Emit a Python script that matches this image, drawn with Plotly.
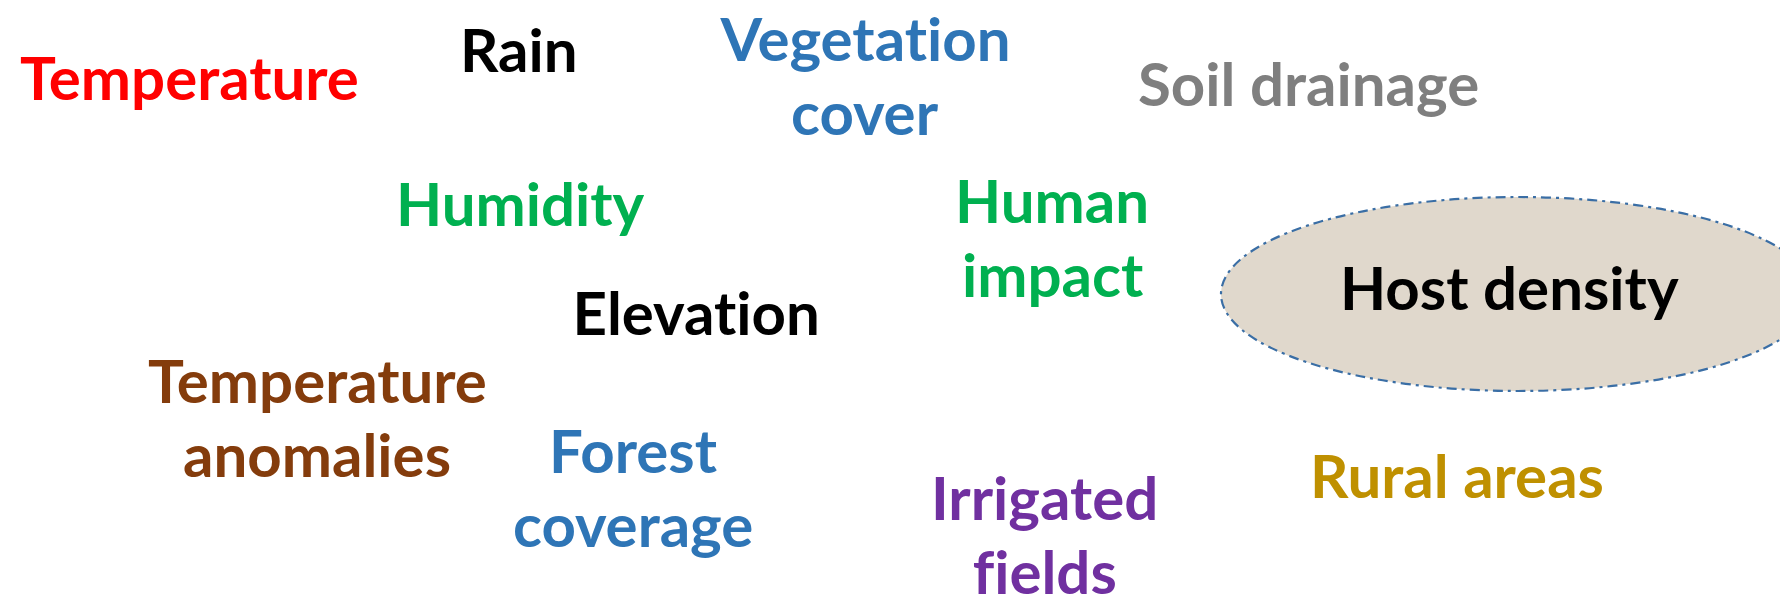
import plotly.graph_objects as go

W, H = 1788, 608

# Word-cloud items (each item may span several lines)
labels = [
    ["Temperature"],
    ["Rain"],
    ["Vegetation", "cover"],
    ["Soil drainage"],
    ["Humidity"],
    ["Human", "impact"],
    ["Elevation"],
    ["Host density"],
    ["Temperature", "anomalies"],
    ["Forest", "coverage"],
    ["Irrigated", "fields"],
    ["Rural areas"],
]
colors = [
    "#FF0000", "#000000", "#2E75B6", "#7F7F7F", "#00B050", "#00B050",
    "#000000", "#000000", "#843C0C", "#2E75B6", "#7030A0", "#BF9000",
]
x_center = [181, 511, 857, 1300, 512, 1044, 688, 1501, 309, 625, 1036, 1449]
y_first = [69, 41, 30, 75, 195, 192, 304, 279, 372, 442, 489, 467]
line_gap = 74
font_size = 60

# Highlighted item ellipse (host density)
ellipse_box = dict(x0=1213, x1=1807, y0=189, y1=383)

fig = go.Figure()
fig.add_shape(
    type="circle", xref="x", yref="y",
    x0=ellipse_box["x0"], x1=ellipse_box["x1"],
    y0=ellipse_box["y0"], y1=ellipse_box["y1"],
    fillcolor="#E0D8CC",
    line=dict(color="#3A6EA5", width=2.2, dash="10px,5px,3px,5px"),
    layer="below",
)

for lines, col, xc, y0 in zip(labels, colors, x_center, y_first):
    for i, ln in enumerate(lines):
        fig.add_annotation(
            x=xc, y=y0 + i * line_gap, xref="x", yref="y",
            text=ln, showarrow=False,
            xanchor="center", yanchor="middle",
            font=dict(family="Lato", size=font_size, color=col, weight="bold"),
        )

fig.update_xaxes(range=[0, W], visible=False, fixedrange=True)
fig.update_yaxes(range=[H, 0], visible=False, fixedrange=True)
fig.update_layout(
    width=W, height=H,
    margin=dict(l=0, r=0, t=0, b=0),
    paper_bgcolor="white", plot_bgcolor="white",
    showlegend=False,
)
no_liga = (
    "var s=document.createElement('style');"
    "s.textContent='svg text{font-variant-ligatures:none !important;"
    "font-feature-settings:\"liga\" 0, \"clig\" 0 !important;}';"
    "document.head.appendChild(s);"
)
fig.write_html("out.html", post_script=no_liga)
